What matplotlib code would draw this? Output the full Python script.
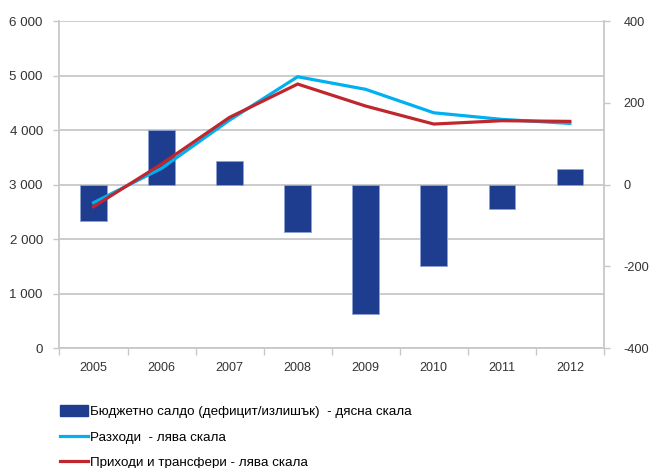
import matplotlib
matplotlib.use("Agg")
import matplotlib.pyplot as plt
from matplotlib.patches import Patch
from matplotlib.lines import Line2D
import numpy as np

years = ["2005", "2006", "2007", "2008", "2009", "2010", "2011", "2012"]
balance = [-89, 134, 57, -117, -318, -199, -60, 39]          # right scale
expenditure = [2666, 3297, 4183, 4978, 4747, 4317, 4196, 4122]  # left scale
revenue = [2593, 3376, 4233, 4844, 4440, 4110, 4171, 4159]      # left scale

left_ticks = [0, 1000, 2000, 3000, 4000, 5000, 6000]
left_labels = ["0", "1 000", "2 000", "3 000", "4 000", "5 000", "6 000"]
right_ticks = [-400, -200, 0, 200, 400]
right_labels = ["-400", "-200", "0", "200", "400"]

legend_labels = ["Бюджетно салдо (дефицит/излишък)  - дясна скала",
                 "Разходи  - лява скала",
                 "Приходи и трансфери - лява скала"]

FONT = ["Liberation Sans Narrow", "Liberation Sans", "DejaVu Sans"]
plt.rcParams['font.family'] = FONT

bar_color = "#1F3D8F"
cyan = "#00B0F0"
red = "#C0272D"
grid_c = "#C8C8C8"
txt_c = "#333333"

fig = plt.figure(figsize=(6.5, 4.68), dpi=100)
ax = fig.add_axes([0.0915, 0.2564, 0.8375, 0.6986])
ax2 = ax.twinx()
ax3 = ax.twinx()
ax.set_zorder(0)
ax2.set_zorder(1)
ax3.set_zorder(2)

x = np.arange(len(years))

# left axis
ax.set_ylim(0, 6000)
ax.set_xlim(-0.5, len(years) - 0.5)
ax.set_yticks(left_ticks)
ax.set_yticklabels(left_labels)
ax.yaxis.grid(True, color=grid_c, linewidth=1.3)
ax.set_axisbelow(True)
ax.set_xticks(x)
ax.set_xticklabels(years)
ax.set_xticks(np.arange(-0.5, len(years)), minor=True)
ax.tick_params(axis='x', which='major', length=0, pad=10, labelsize=9, colors=txt_c)
ax.tick_params(axis='x', which='minor', length=5, color=grid_c, width=1)
ax.tick_params(axis='y', length=4, color=grid_c, width=1, labelsize=9.6, colors=txt_c, pad=8)
for s in ["top", "right"]:
    ax.spines[s].set_visible(False)
for s in ["left", "bottom"]:
    ax.spines[s].set_color(grid_c)
    ax.spines[s].set_linewidth(1.3)

# right axis with bars
ax2.bar(x, balance, width=0.39, color=bar_color, edgecolor="#8EA2D0", linewidth=0.6)
ax2.set_ylim(-400, 400)
ax2.set_yticks(right_ticks)
ax2.set_yticklabels(right_labels)
ax2.tick_params(axis='y', length=4, color=grid_c, width=1, labelsize=9.2, colors=txt_c, pad=10)
for s in ["top", "left", "bottom"]:
    ax2.spines[s].set_visible(False)
ax2.spines["right"].set_color(grid_c)
ax2.spines["right"].set_linewidth(1.3)

# lines on left scale
ax3.plot(x, expenditure, color=cyan, linewidth=2.3, solid_joinstyle='miter')
ax3.plot(x, revenue, color=red, linewidth=2.3, solid_joinstyle='miter')
ax3.set_ylim(0, 6000)
ax3.set_yticks([])
for s in ax3.spines.values():
    s.set_visible(False)

handles = [Patch(facecolor=bar_color, edgecolor=bar_color),
           Line2D([0], [0], color=cyan, linewidth=2.3),
           Line2D([0], [0], color=red, linewidth=2.3)]
fig.legend(handles, legend_labels, loc="lower left", bbox_to_anchor=(0.092, -0.002),
           frameon=False, fontsize=9.6, handlelength=2.1, handleheight=0.8,
           handletextpad=0.15, labelspacing=0.95, borderaxespad=0, borderpad=0)

fig.savefig("out.png", dpi=100)
